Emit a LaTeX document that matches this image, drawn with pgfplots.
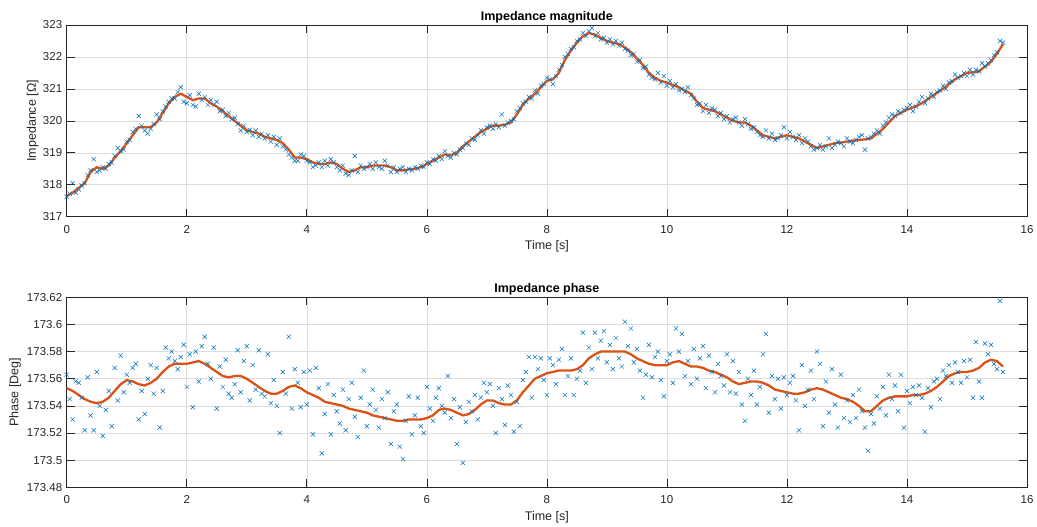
\documentclass[border=0pt]{standalone}
\usepackage{fontspec}
\setmainfont{Liberation Sans}
\usepackage{pgfplots}
\usepackage{pgfplotstable}
\pgfplotsset{compat=1.18}
\definecolor{mblue}{rgb}{0,0.447,0.741}
\definecolor{morange}{rgb}{0.85,0.325,0.098}
\definecolor{mgray}{rgb}{0.15,0.15,0.15}

\pgfplotstableread{
t v
0.00 317.62
0.05 317.72
0.10 318.05
0.15 317.75
0.20 317.85
0.25 317.98
0.30 318.05
0.35 318.30
0.40 318.45
0.45 318.80
0.50 318.40
0.55 318.45
0.60 318.55
0.65 318.50
0.70 318.65
0.75 318.70
0.80 318.90
0.85 319.15
0.90 319.05
0.95 319.10
1.00 319.35
1.05 319.40
1.10 319.65
1.15 319.75
1.20 320.15
1.25 319.85
1.30 319.70
1.35 319.60
1.40 319.75
1.45 319.90
1.50 320.20
1.55 320.05
1.60 320.30
1.65 320.45
1.70 320.60
1.75 320.70
1.80 320.70
1.85 320.90
1.90 321.05
1.95 320.60
2.00 320.55
2.05 320.80
2.10 320.50
2.15 320.45
2.20 320.85
2.25 320.65
2.30 320.75
2.35 320.50
2.40 320.65
2.45 320.50
2.50 320.60
2.55 320.30
2.60 320.35
2.65 320.15
2.70 320.25
2.75 320.05
2.80 320.10
2.85 319.90
2.90 319.70
2.95 319.85
3.00 319.65
3.05 319.72
3.10 319.55
3.15 319.70
3.20 319.50
3.25 319.60
3.30 319.45
3.35 319.55
3.40 319.35
3.45 319.50
3.50 319.25
3.55 319.45
3.60 319.20
3.65 319.10
3.70 318.95
3.75 318.85
3.80 318.75
3.85 318.75
3.90 318.95
3.95 318.90
4.00 318.75
4.05 318.70
4.10 318.55
4.15 318.60
4.20 318.70
4.25 318.55
4.30 318.75
4.35 318.60
4.40 318.80
4.45 318.70
4.50 318.55
4.55 318.45
4.60 318.60
4.65 318.35
4.70 318.30
4.75 318.45
4.80 318.90
4.85 318.40
4.90 318.60
4.95 318.50
5.00 318.55
5.05 318.65
5.10 318.50
5.15 318.70
5.20 318.55
5.25 318.50
5.30 318.75
5.35 318.60
5.40 318.40
5.45 318.55
5.50 318.40
5.55 318.50
5.60 318.55
5.65 318.40
5.70 318.50
5.75 318.45
5.80 318.55
5.85 318.50
5.90 318.60
5.95 318.55
6.00 318.70
6.05 318.65
6.10 318.80
6.15 318.75
6.20 318.90
6.25 318.80
6.30 319.05
6.35 318.90
6.40 318.85
6.45 319.00
6.50 318.95
6.55 319.10
6.60 319.15
6.65 319.30
6.70 319.25
6.75 319.45
6.80 319.40
6.85 319.55
6.90 319.70
6.95 319.60
7.00 319.80
7.05 319.85
7.10 319.75
7.15 319.90
7.20 319.80
7.25 320.20
7.30 319.85
7.35 319.95
7.40 320.00
7.45 320.05
7.50 320.30
7.55 320.40
7.60 320.55
7.65 320.60
7.70 320.75
7.75 320.70
7.80 320.95
7.85 320.85
7.90 321.10
7.95 321.15
8.00 321.35
8.05 321.30
8.10 321.15
8.15 321.40
8.20 321.60
8.25 321.75
8.30 322.00
8.35 322.10
8.40 322.25
8.45 322.30
8.50 322.50
8.55 322.55
8.60 322.75
8.65 322.65
8.70 322.80
8.75 322.90
8.80 322.65
8.85 322.75
8.90 322.55
8.95 322.60
9.00 322.45
9.05 322.55
9.10 322.40
9.15 322.50
9.20 322.35
9.25 322.45
9.30 322.25
9.35 322.20
9.40 322.05
9.45 322.10
9.50 321.85
9.55 321.90
9.60 321.65
9.65 321.70
9.70 321.45
9.75 321.35
9.80 321.30
9.85 321.50
9.90 321.20
9.95 321.40
10.00 321.10
10.05 321.25
10.10 321.05
10.15 321.15
10.20 320.95
10.25 321.00
10.30 320.90
10.35 321.05
10.40 320.80
10.45 320.70
10.50 320.50
10.55 320.55
10.60 320.30
10.65 320.50
10.70 320.25
10.75 320.40
10.80 320.35
10.85 320.15
10.90 320.25
10.95 320.05
11.00 320.15
11.05 319.95
11.10 320.05
11.15 320.10
11.20 319.95
11.25 319.85
11.30 320.05
11.35 319.90
11.40 319.75
11.45 319.80
11.50 319.65
11.55 319.55
11.60 319.50
11.65 319.70
11.70 319.45
11.75 319.60
11.80 319.40
11.85 319.45
11.90 319.55
11.95 319.80
12.00 319.45
12.05 319.65
12.10 319.50
12.15 319.40
12.20 319.55
12.25 319.30
12.30 319.45
12.35 319.35
12.40 319.20
12.45 319.10
12.50 319.15
12.55 319.25
12.60 319.10
12.65 319.20
12.70 319.45
12.75 319.15
12.80 319.25
12.85 319.35
12.90 319.30
12.95 319.20
13.00 319.45
13.05 319.35
13.10 319.30
13.15 319.40
13.20 319.50
13.25 319.55
13.30 319.10
13.35 319.45
13.40 319.50
13.45 319.60
13.50 319.70
13.55 319.60
13.60 319.85
13.65 319.95
13.70 320.10
13.75 320.20
13.80 320.15
13.85 320.30
13.90 320.25
13.95 320.35
14.00 320.40
14.05 320.50
14.10 320.30
14.15 320.45
14.20 320.60
14.25 320.75
14.30 320.55
14.35 320.70
14.40 320.85
14.45 320.75
14.50 320.90
14.55 320.95
14.60 321.10
14.65 321.00
14.70 321.20
14.75 321.25
14.80 321.45
14.85 321.35
14.90 321.40
14.95 321.50
15.00 321.40
15.05 321.60
15.10 321.45
15.15 321.60
15.20 321.55
15.25 321.80
15.30 321.70
15.35 321.80
15.40 321.90
15.45 322.05
15.50 322.15
15.55 322.50
15.60 322.45
}\magpts

\pgfplotstableread{
t v
0.0 317.65
0.1 317.75
0.2 317.90
0.3 318.05
0.4 318.40
0.5 318.55
0.6 318.50
0.7 318.60
0.8 318.85
0.9 319.05
1.0 319.30
1.1 319.55
1.2 319.80
1.3 319.80
1.4 319.80
1.5 319.95
1.6 320.25
1.7 320.55
1.8 320.75
1.9 320.85
2.0 320.75
2.1 320.65
2.2 320.70
2.3 320.70
2.4 320.55
2.5 320.45
2.6 320.30
2.7 320.15
2.8 320.00
2.9 319.85
3.0 319.70
3.1 319.65
3.2 319.60
3.3 319.50
3.4 319.45
3.5 319.40
3.6 319.30
3.7 319.10
3.8 318.85
3.9 318.85
4.0 318.80
4.1 318.70
4.2 318.65
4.3 318.65
4.4 318.70
4.5 318.65
4.6 318.50
4.7 318.40
4.8 318.45
4.9 318.55
5.0 318.55
5.1 318.60
5.2 318.60
5.3 318.60
5.4 318.55
5.5 318.45
5.6 318.45
5.7 318.48
5.8 318.50
5.9 318.55
6.0 318.65
6.1 318.75
6.2 318.85
6.3 318.95
6.4 318.92
6.5 319.00
6.6 319.20
6.7 319.35
6.8 319.50
6.9 319.65
7.0 319.75
7.1 319.85
7.2 319.85
7.3 319.88
7.4 319.95
7.5 320.20
7.6 320.50
7.7 320.70
7.8 320.85
7.9 321.05
8.0 321.25
8.1 321.30
8.2 321.50
8.3 321.90
8.4 322.20
8.5 322.45
8.6 322.65
8.7 322.75
8.8 322.70
8.9 322.60
9.0 322.50
9.1 322.45
9.2 322.40
9.3 322.30
9.4 322.15
9.5 321.95
9.6 321.75
9.7 321.50
9.8 321.35
9.9 321.25
10.0 321.20
10.1 321.12
10.2 321.05
10.3 320.95
10.4 320.85
10.5 320.60
10.6 320.40
10.7 320.35
10.8 320.30
10.9 320.20
11.0 320.10
11.1 320.00
11.2 319.95
11.3 319.95
11.4 319.85
11.5 319.70
11.6 319.55
11.7 319.50
11.8 319.45
11.9 319.50
12.0 319.55
12.1 319.50
12.2 319.45
12.3 319.35
12.4 319.25
12.5 319.15
12.6 319.20
12.7 319.25
12.8 319.30
12.9 319.32
13.0 319.35
13.1 319.38
13.2 319.40
13.3 319.42
13.4 319.45
13.5 319.60
13.6 319.75
13.7 319.95
13.8 320.15
13.9 320.25
14.0 320.35
14.1 320.42
14.2 320.50
14.3 320.62
14.4 320.75
14.5 320.88
14.6 321.00
14.7 321.15
14.8 321.30
14.9 321.40
15.0 321.50
15.1 321.52
15.2 321.55
15.3 321.70
15.4 321.85
15.5 322.10
15.6 322.40
}\magline

\pgfplotstableread{
t v
0.00 173.563
0.05 173.545
0.10 173.530
0.15 173.558
0.20 173.557
0.25 173.546
0.30 173.522
0.35 173.561
0.40 173.533
0.45 173.522
0.50 173.565
0.55 173.540
0.60 173.518
0.65 173.537
0.70 173.551
0.75 173.525
0.80 173.568
0.85 173.544
0.90 173.577
0.95 173.550
1.00 173.563
1.05 173.557
1.10 173.568
1.15 173.571
1.20 173.530
1.25 173.551
1.30 173.534
1.35 173.560
1.40 173.570
1.45 173.549
1.50 173.568
1.55 173.524
1.60 173.551
1.65 173.583
1.70 173.575
1.75 173.580
1.80 173.573
1.85 173.567
1.90 173.576
1.95 173.585
2.00 173.554
2.05 173.578
2.10 173.539
2.15 173.580
2.20 173.558
2.25 173.584
2.30 173.591
2.35 173.571
2.40 173.560
2.45 173.583
2.50 173.538
2.55 173.569
2.60 173.554
2.65 173.574
2.70 173.549
2.75 173.546
2.80 173.556
2.85 173.581
2.90 173.550
2.95 173.573
3.00 173.584
3.05 173.544
3.10 173.570
3.15 173.552
3.20 173.581
3.25 173.549
3.30 173.547
3.35 173.578
3.40 173.542
3.45 173.559
3.50 173.540
3.55 173.520
3.60 173.565
3.65 173.549
3.70 173.591
3.75 173.538
3.80 173.567
3.85 173.557
3.90 173.539
3.95 173.565
4.00 173.541
4.05 173.566
4.10 173.519
4.15 173.568
4.20 173.553
4.25 173.505
4.30 173.534
4.35 173.556
4.40 173.519
4.45 173.548
4.50 173.536
4.55 173.527
4.60 173.552
4.65 173.522
4.70 173.545
4.75 173.557
4.80 173.532
4.85 173.517
4.90 173.546
4.95 173.566
5.00 173.525
5.05 173.541
5.10 173.552
5.15 173.537
5.20 173.524
5.25 173.545
5.30 173.531
5.35 173.550
5.40 173.512
5.45 173.536
5.50 173.541
5.55 173.510
5.60 173.501
5.65 173.529
5.70 173.547
5.75 173.519
5.80 173.533
5.85 173.546
5.90 173.525
5.95 173.520
6.00 173.554
6.05 173.538
6.10 173.529
6.15 173.546
6.20 173.553
6.25 173.540
6.30 173.535
6.35 173.562
6.40 173.531
6.45 173.545
6.50 173.512
6.55 173.539
6.60 173.498
6.65 173.528
6.70 173.543
6.75 173.536
6.80 173.548
6.85 173.530
6.90 173.546
6.95 173.557
7.00 173.550
7.05 173.556
7.10 173.540
7.15 173.520
7.20 173.553
7.25 173.545
7.30 173.526
7.35 173.555
7.40 173.548
7.45 173.521
7.50 173.543
7.55 173.525
7.60 173.559
7.65 173.565
7.70 173.576
7.75 173.546
7.80 173.576
7.85 173.567
7.90 173.575
7.95 173.559
8.00 173.548
8.05 173.575
8.10 173.570
8.15 173.556
8.20 173.574
8.25 173.582
8.30 173.548
8.35 173.562
8.40 173.575
8.45 173.548
8.50 173.560
8.55 173.566
8.60 173.594
8.65 173.557
8.70 173.583
8.75 173.567
8.80 173.594
8.85 173.575
8.90 173.588
8.95 173.595
9.00 173.572
9.05 173.585
9.10 173.567
9.15 173.590
9.20 173.575
9.25 173.569
9.30 173.602
9.35 173.584
9.40 173.597
9.45 173.572
9.50 173.582
9.55 173.566
9.60 173.546
9.65 173.563
9.70 173.585
9.75 173.561
9.80 173.576
9.85 173.580
9.90 173.559
9.95 173.547
10.00 173.573
10.05 173.578
10.10 173.557
10.15 173.597
10.20 173.580
10.25 173.593
10.30 173.562
10.35 173.573
10.40 173.556
10.45 173.582
10.50 173.560
10.55 173.575
10.60 173.584
10.65 173.553
10.70 173.577
10.75 173.565
10.80 173.550
10.85 173.571
10.90 173.562
10.95 173.555
11.00 173.578
11.05 173.550
11.10 173.573
11.15 173.549
11.20 173.565
11.25 173.541
11.30 173.529
11.35 173.560
11.40 173.548
11.45 173.566
11.50 173.541
11.55 173.554
11.60 173.578
11.65 173.593
11.70 173.535
11.75 173.562
11.80 173.545
11.85 173.560
11.90 173.538
11.95 173.561
12.00 173.548
12.05 173.557
12.10 173.562
12.15 173.544
12.20 173.522
12.25 173.570
12.30 173.540
12.35 173.552
12.40 173.566
12.45 173.545
12.50 173.580
12.55 173.571
12.60 173.525
12.65 173.558
12.70 173.535
12.75 173.567
12.80 173.541
12.85 173.524
12.90 173.563
12.95 173.531
13.00 173.544
13.05 173.528
13.10 173.548
13.15 173.531
13.20 173.552
13.25 173.536
13.30 173.524
13.35 173.507
13.40 173.534
13.45 173.527
13.50 173.547
13.55 173.538
13.60 173.554
13.65 173.533
13.70 173.563
13.75 173.545
13.80 173.555
13.85 173.536
13.90 173.563
13.95 173.524
14.00 173.551
14.05 173.542
14.10 173.554
14.15 173.548
14.20 173.555
14.25 173.546
14.30 173.521
14.35 173.553
14.40 173.539
14.45 173.558
14.50 173.560
14.55 173.545
14.60 173.566
14.65 173.562
14.70 173.570
14.75 173.557
14.80 173.572
14.85 173.565
14.90 173.557
14.95 173.573
15.00 173.561
15.05 173.574
15.10 173.546
15.15 173.587
15.20 173.558
15.25 173.546
15.30 173.586
15.35 173.578
15.40 173.585
15.45 173.571
15.50 173.567
15.55 173.6175
15.60 173.565
}\phapts

\pgfplotstableread{
t v
0.0 173.553
0.1 173.551
0.2 173.548
0.3 173.545
0.4 173.543
0.5 173.542
0.6 173.543
0.7 173.546
0.8 173.551
0.9 173.556
1.0 173.559
1.1 173.558
1.2 173.556
1.3 173.555
1.4 173.557
1.5 173.560
1.6 173.565
1.7 173.569
1.8 173.571
1.9 173.571
2.0 173.571
2.1 173.572
2.2 173.573
2.3 173.571
2.4 173.568
2.5 173.565
2.6 173.562
2.7 173.561
2.8 173.562
2.9 173.562
3.0 173.560
3.1 173.557
3.2 173.554
3.3 173.551
3.4 173.549
3.5 173.549
3.6 173.551
3.7 173.554
3.8 173.555
3.9 173.553
4.0 173.550
4.1 173.548
4.2 173.546
4.3 173.543
4.4 173.542
4.5 173.541
4.6 173.540
4.7 173.538
4.8 173.537
4.9 173.536
5.0 173.535
5.1 173.533
5.2 173.532
5.3 173.531
5.4 173.530
5.5 173.529
5.6 173.529
5.7 173.530
5.8 173.530
5.9 173.530
6.0 173.531
6.1 173.533
6.2 173.537
6.3 173.538
6.4 173.537
6.5 173.535
6.6 173.533
6.7 173.534
6.8 173.537
6.9 173.541
7.0 173.544
7.1 173.544
7.2 173.542
7.3 173.541
7.4 173.541
7.5 173.544
7.6 173.550
7.7 173.555
7.8 173.560
7.9 173.562
8.0 173.564
8.1 173.565
8.2 173.566
8.3 173.566
8.4 173.566
8.5 173.567
8.6 173.570
8.7 173.575
8.8 173.578
8.9 173.580
9.0 173.580
9.1 173.580
9.2 173.580
9.3 173.580
9.4 173.578
9.5 173.575
9.6 173.573
9.7 173.571
9.8 173.570
9.9 173.570
10.0 173.570
10.1 173.572
10.2 173.573
10.3 173.571
10.4 173.569
10.5 173.569
10.6 173.568
10.7 173.566
10.8 173.565
10.9 173.563
11.0 173.561
11.1 173.558
11.2 173.556
11.3 173.557
11.4 173.558
11.5 173.558
11.6 173.557
11.7 173.555
11.8 173.552
11.9 173.551
12.0 173.550
12.1 173.549
12.2 173.549
12.3 173.550
12.4 173.552
12.5 173.553
12.6 173.552
12.7 173.550
12.8 173.548
12.9 173.546
13.0 173.545
13.1 173.543
13.2 173.540
13.3 173.536
13.4 173.536
13.5 173.540
13.6 173.544
13.7 173.546
13.8 173.547
13.9 173.547
14.0 173.547
14.1 173.548
14.2 173.548
14.3 173.549
14.4 173.551
14.5 173.554
14.6 173.558
14.7 173.562
14.8 173.564
14.9 173.565
15.0 173.565
15.1 173.566
15.2 173.568
15.3 173.572
15.4 173.574
15.5 173.573
15.6 173.569
}\phaline

\pgfplotsset{
  mstyle/.style={
    scale only axis, width=960.3pt,
    xmin=0, xmax=16, xtick={0,2,4,6,8,10,12,14,16},
    axis line style={mgray, line width=0.6pt},
    tick style={mgray, line width=0.6pt},
    major tick length=8pt, tick align=inside,
    grid=major, grid style={black!13, line width=0.5pt},
    tick label style={font=\fontsize{11.5}{13}\selectfont, text=mgray},
    /pgf/number format/assume math mode=true,
    xticklabel style={yshift=-5pt},
    yticklabel style={xshift=-1pt},
    xlabel={Time [s]},
    xlabel style={font=\fontsize{12.5}{14}\selectfont, text=mgray,
      at={(axis description cs:0.5,0)}, anchor=center, yshift=-30pt},
    title style={font=\bfseries\fontsize{12.5}{14}\selectfont, text=black,
      at={(axis description cs:0.5,1)}, anchor=center, yshift=2pt},
    ylabel style={font=\fontsize{12.5}{14}\selectfont, text=mgray, anchor=center},
    scaled y ticks=false,
  },
  mscat/.style={only marks, mark=x, mark size=3pt, color=mblue, mark options={line width=0.5pt}},
  mline/.style={no marks, color=morange, line width=2.3pt},
}

\begin{document}
\begin{tikzpicture}
\path[use as bounding box] (0,0) rectangle (1037pt,527pt);
\begin{axis}[mstyle, at={(66.7pt,310.3pt)}, anchor=south west,
  height=191.7pt, ymin=317, ymax=323, ytick={317,318,319,320,321,322,323},
  title={Impedance magnitude}, ylabel={Impedance [Ω]},
  ylabel style={at={(axis description cs:-0.0354,0.5)}}]
\addplot[mscat] table[x=t,y=v] {\magpts};
\addplot[mline] table[x=t,y=v] {\magline};
\end{axis}
\begin{axis}[mstyle, at={(66.7pt,39.7pt)}, anchor=south west,
  height=190pt, ymin=173.48, ymax=173.62,
  ytick={173.48,173.5,173.52,173.54,173.56,173.58,173.6,173.62},
  yticklabels={173.48,173.5,173.52,173.54,173.56,173.58,173.6,173.62},
  title={Impedance phase}, ylabel={Phase [Deg]},
  ylabel style={at={(axis description cs:-0.0538,0.5)}}]
\addplot[mscat] table[x=t,y=v] {\phapts};
\addplot[mline] table[x=t,y=v] {\phaline};
\end{axis}
\end{tikzpicture}
\end{document}
